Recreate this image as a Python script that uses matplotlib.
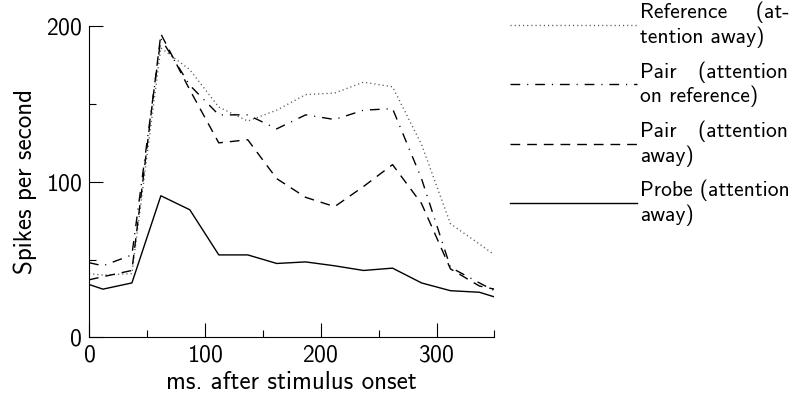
import matplotlib
matplotlib.use("Agg")
import matplotlib.pyplot as plt
from matplotlib.ticker import MultipleLocator

# donnees
temps = [0, 12, 37, 62, 87, 112, 137, 162, 187, 212, 237, 262, 287, 312, 337, 350]
reference = [41, 40, 41, 186, 172, 148, 139, 146, 156, 157, 164, 161, 124, 73, 60, 53]
paire_ref = [48, 46, 53, 192, 162, 143, 143, 134, 143, 140, 146, 147, 102, 45, 35, 30]
paire_loin = [37, 39, 43, 195, 159, 125, 127, 102, 90, 84, 97, 111, 86, 44, 33, 31]
sonde = [34, 31, 35, 91, 82, 53, 53, 47.5, 48.5, 46, 43, 44.5, 35, 30, 29, 26]

labels = ["Reference    (at-\ntention away)",
          "Pair   (attention\non reference)",
          "Pair   (attention\naway)",
          "Probe (attention\naway)"]

plt.rcParams['font.family'] = ['cmss10', 'DejaVu Sans']
plt.rcParams['axes.formatter.use_mathtext'] = True

fig = plt.figure(figsize=(7.95, 3.96), dpi=100)
ax = fig.add_axes([0.112, 0.148, 0.510, 0.786])

l1, = ax.plot(temps, reference, color='#555555', lw=1.0, linestyle=(0, (0.8, 2.2)))
l2, = ax.plot(temps, paire_ref, color='black', lw=1.0, linestyle=(0, (7, 5, 0.8, 5)))
l3, = ax.plot(temps, paire_loin, color='black', lw=1.0, linestyle=(0, (7, 5)))
l4, = ax.plot(temps, sonde, color='black', lw=1.0)

ax.set_xlim(0, 350)
ax.set_ylim(0, 200)
ax.xaxis.set_major_locator(MultipleLocator(100))
ax.xaxis.set_minor_locator(MultipleLocator(50))
ax.yaxis.set_major_locator(MultipleLocator(100))
ax.yaxis.set_minor_locator(MultipleLocator(50))
ax.tick_params(which='major', direction='in', length=10, width=0.8, labelsize=17, pad=5)
ax.tick_params(which='minor', direction='in', length=5, width=0.8)
ax.spines['top'].set_visible(False)
ax.spines['right'].set_visible(False)
ax.spines['left'].set_linewidth(0.8)
ax.spines['bottom'].set_linewidth(0.8)

ax.set_xlabel("ms. after stimulus onset", fontsize=18, labelpad=3)
ax.set_ylabel("Spikes per second", fontsize=18, labelpad=6)

fig.legend([l1, l2, l3, l4], labels, loc='upper left', bbox_to_anchor=(0.641, 0.995),
           frameon=False, fontsize=15.5, handlelength=5.9, handletextpad=0.18,
           labelspacing=0.6, borderpad=0, borderaxespad=0)

fig.savefig("out.png", dpi=100)
